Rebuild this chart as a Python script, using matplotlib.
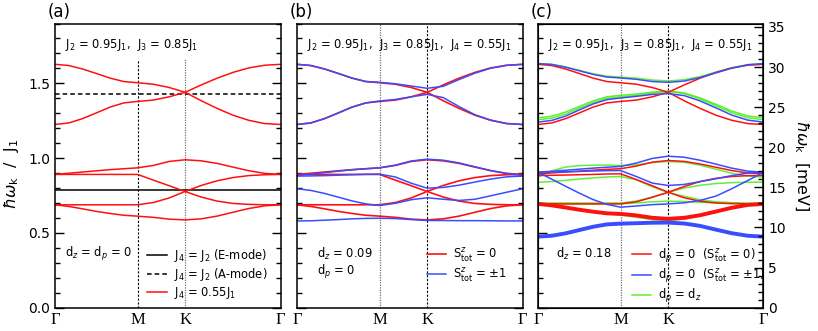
#!/usr/bin/env python3
"""
Spin-wave dispersion along Gamma-M-K-Gamma for three parameter sets.
"""

import matplotlib
matplotlib.use('Agg')
import matplotlib.pyplot as plt
from matplotlib.ticker import MultipleLocator

# k path (fraction of the Gamma-M-K-Gamma length)
k_path = [0.0, 0.061, 0.122, 0.183, 0.244, 0.305, 0.366, 0.436, 0.507, 0.577,
          0.648, 0.718, 0.789, 0.859, 0.930, 1.0]
k_ticks = [0.0, 0.366, 0.577, 1.0]
k_labels = ['Γ', 'M', 'K', 'Γ']

# (a) J4 = J2 flat modes and J4 = 0.55 J1 bands  (units of J1)
e_mode = 0.788
a_mode = 1.429
a_red1 = [1.627, 1.619, 1.596, 1.566, 1.535, 1.512, 1.504, 1.494, 1.472, 1.440, 1.489, 1.534, 1.573, 1.603, 1.621, 1.627]
a_red2 = [1.225, 1.235, 1.264, 1.302, 1.341, 1.369, 1.379, 1.388, 1.410, 1.440, 1.384, 1.333, 1.287, 1.253, 1.231, 1.225]
a_red3 = [0.891, 0.899, 0.907, 0.915, 0.923, 0.929, 0.935, 0.951, 0.978, 0.989, 0.982, 0.965, 0.940, 0.916, 0.898, 0.891]
a_red4 = [0.891, 0.891, 0.891, 0.891, 0.891, 0.891, 0.891, 0.853, 0.815, 0.777, 0.817, 0.848, 0.870, 0.883, 0.889, 0.891]
a_red5 = [0.688, 0.688, 0.688, 0.688, 0.688, 0.688, 0.688, 0.703, 0.734, 0.777, 0.740, 0.713, 0.697, 0.691, 0.688, 0.688]
a_red6 = [0.688, 0.677, 0.661, 0.644, 0.630, 0.618, 0.612, 0.604, 0.592, 0.587, 0.594, 0.612, 0.638, 0.663, 0.681, 0.688]

# (b) dz = 0.09, dp = 0 : S=0 bands equal the (a) red ones, S=+-1 below
b_blue1 = [1.627, 1.619, 1.596, 1.566, 1.535, 1.512, 1.507, 1.497, 1.482, 1.467, 1.480, 1.525, 1.568, 1.601, 1.620, 1.627]
b_blue2 = [1.225, 1.235, 1.264, 1.302, 1.341, 1.369, 1.382, 1.392, 1.410, 1.426, 1.405, 1.345, 1.290, 1.254, 1.231, 1.225]
b_blue3 = [0.884, 0.893, 0.903, 0.913, 0.922, 0.929, 0.935, 0.953, 0.981, 0.993, 0.986, 0.968, 0.942, 0.917, 0.897, 0.884]
b_blue4 = [0.880, 0.881, 0.883, 0.886, 0.889, 0.892, 0.893, 0.874, 0.832, 0.799, 0.804, 0.819, 0.840, 0.860, 0.875, 0.880]
b_blue5 = [0.795, 0.784, 0.764, 0.739, 0.714, 0.694, 0.683, 0.698, 0.722, 0.735, 0.725, 0.717, 0.725, 0.748, 0.772, 0.795]
b_blue6 = [0.580, 0.581, 0.585, 0.589, 0.594, 0.597, 0.598, 0.596, 0.589, 0.583, 0.583, 0.582, 0.582, 0.581, 0.580, 0.580]

# (c) dz = 0.18
c_red3 = [0.895, 0.901, 0.907, 0.913, 0.919, 0.925, 0.929, 0.947, 0.973, 0.984, 0.978, 0.961, 0.939, 0.917, 0.901, 0.895]
c_red4 = [0.884, 0.885, 0.887, 0.889, 0.891, 0.894, 0.895, 0.857, 0.815, 0.772, 0.810, 0.843, 0.865, 0.877, 0.883, 0.884]
c_red5 = [0.694, 0.694, 0.694, 0.694, 0.694, 0.694, 0.694, 0.708, 0.738, 0.772, 0.735, 0.712, 0.700, 0.696, 0.694, 0.694]
c_red6 = [0.694, 0.684, 0.670, 0.655, 0.642, 0.631, 0.627, 0.617, 0.601, 0.594, 0.601, 0.618, 0.643, 0.668, 0.687, 0.694]
c_blue1 = [1.632, 1.626, 1.608, 1.584, 1.560, 1.542, 1.536, 1.527, 1.512, 1.507, 1.515, 1.538, 1.570, 1.601, 1.624, 1.632]
c_blue2 = [1.241, 1.252, 1.281, 1.322, 1.362, 1.391, 1.402, 1.413, 1.426, 1.431, 1.418, 1.383, 1.336, 1.288, 1.254, 1.241]
c_blue3 = [0.906, 0.912, 0.919, 0.926, 0.933, 0.939, 0.944, 0.967, 0.998, 1.013, 1.006, 0.986, 0.960, 0.933, 0.913, 0.906]
c_blue4 = [0.906, 0.907, 0.909, 0.911, 0.914, 0.916, 0.917, 0.877, 0.833, 0.817, 0.824, 0.843, 0.862, 0.883, 0.900, 0.906]
c_blue5 = [0.906, 0.859, 0.812, 0.766, 0.723, 0.691, 0.672, 0.680, 0.689, 0.694, 0.701, 0.717, 0.746, 0.795, 0.850, 0.906]
c_blue6 = [0.475, 0.481, 0.497, 0.519, 0.541, 0.557, 0.562, 0.565, 0.568, 0.569, 0.563, 0.547, 0.522, 0.498, 0.481, 0.475]
c_green1 = [1.632, 1.627, 1.610, 1.587, 1.564, 1.548, 1.542, 1.535, 1.522, 1.516, 1.524, 1.545, 1.575, 1.604, 1.625, 1.632]
c_green2 = [1.270, 1.280, 1.308, 1.345, 1.383, 1.410, 1.420, 1.428, 1.441, 1.449, 1.436, 1.403, 1.360, 1.315, 1.282, 1.270]
c_green3 = [1.257, 1.267, 1.295, 1.334, 1.372, 1.400, 1.410, 1.419, 1.435, 1.445, 1.432, 1.396, 1.350, 1.304, 1.270, 1.257]
c_green4 = [0.873, 0.915, 0.940, 0.950, 0.953, 0.953, 0.951, 0.955, 0.970, 0.978, 0.972, 0.953, 0.926, 0.899, 0.880, 0.873]
c_green5 = [0.839, 0.843, 0.851, 0.860, 0.868, 0.874, 0.877, 0.855, 0.808, 0.770, 0.800, 0.818, 0.830, 0.836, 0.839, 0.839]
c_green6 = [0.700, 0.700, 0.700, 0.700, 0.700, 0.700, 0.700, 0.713, 0.740, 0.770, 0.745, 0.722, 0.708, 0.702, 0.700, 0.700]
c_green7 = [0.694, 0.694, 0.694, 0.694, 0.694, 0.694, 0.694, 0.700, 0.708, 0.712, 0.710, 0.705, 0.700, 0.697, 0.695, 0.694]
c_green8 = [0.694, 0.683, 0.668, 0.652, 0.638, 0.626, 0.620, 0.605, 0.588, 0.583, 0.592, 0.613, 0.640, 0.666, 0.686, 0.694]

J1_meV = 18.65
y_max = 1.9

RED = '#ff1010'
BLUE = '#3a4cff'
GREEN = '#44ee11'
TXT = 8.3

W, H = 818, 331
fig = plt.figure(figsize=(W / 100, H / 100), dpi=100)


def make_axes(left_px):
    ax = fig.add_axes([left_px / W, (H - 307.7) / H, 225.5 / W, 284.2 / H])
    ax.set_xlim(0, 1)
    ax.set_ylim(0, y_max)
    ax.yaxis.set_major_locator(MultipleLocator(0.5))
    ax.yaxis.set_minor_locator(MultipleLocator(0.1))
    ax.tick_params(axis='y', which='both', direction='in', left=True, right=True,
                   labelsize=10, width=1.0)
    ax.tick_params(axis='y', which='major', length=6.5)
    ax.tick_params(axis='y', which='minor', length=3.4)
    ax.set_xticks(k_ticks)
    ax.set_xticklabels(k_labels, family='Liberation Serif', fontsize=12)
    ax.tick_params(axis='x', length=0, pad=3)
    for s in ax.spines.values():
        s.set_linewidth(1.1)
    return ax


def add_legend(ax, x0, handles=None):
    kw = dict(loc='upper left', bbox_to_anchor=(x0, 0.215), frameon=False, fontsize=TXT,
              borderpad=0, borderaxespad=0, handlelength=1.7, handletextpad=0.6,
              labelspacing=0.2)
    if handles is None:
        ax.legend(**kw)
    else:
        ax.legend(handles, [h.get_label() for h in handles], **kw)


# ---------------- (a)
ax1 = make_axes(55)
ax1.axvline(k_ticks[1], ymax=0.874, color='k', lw=0.8, ls=(0, (2, 1.5)))
ax1.axvline(k_ticks[2], ymax=0.874, color='0.45', lw=0.9, ls=(0, (1, 1)))
ax1.axhline(e_mode, color='k', lw=1.1, label='J$_4$ = J$_2$ (E-mode)')
ax1.axhline(a_mode, color='k', lw=1.1, ls=(0, (3, 2)), label='J$_4$ = J$_2$ (A-mode)')
for i, band in enumerate([a_red1, a_red2, a_red3, a_red4, a_red5, a_red6]):
    ax1.plot(k_path, band, color=RED, lw=1.1,
             label='J$_4$ = 0.55J$_1$' if i == 0 else None)
ax1.set_ylabel(r'$\hbar\omega_{\rm k}$  /  J$_1$', fontsize=11.5)
ax1.yaxis.set_label_coords(-0.15, 0.47)
ax1.text(0.044, 0.924, 'J$_2$ = 0.95J$_1$,  J$_3$ = 0.85J$_1$', transform=ax1.transAxes,
         fontsize=TXT, va='center')
ax1.text(0.044, 0.189, 'd$_z$ = d$_p$ = 0', transform=ax1.transAxes, fontsize=TXT, va='center')
add_legend(ax1, 0.41)

# ---------------- (b)
ax2 = make_axes(297)
ax2.tick_params(axis='y', labelleft=False)
ax2.axvline(k_ticks[1], color='0.45', lw=0.9, ls=(0, (1, 1)))
ax2.axvline(k_ticks[2], color='k', lw=0.8, ls=(0, (2, 1.5)))
for i, band in enumerate([a_red1, a_red2, a_red3, a_red4, a_red5, a_red6]):
    ax2.plot(k_path, band, color=RED, lw=1.2,
             label=r'S$^{z}_{\rm tot}$ = 0' if i == 0 else None)
for i, band in enumerate([b_blue1, b_blue2, b_blue3, b_blue4, b_blue5, b_blue6]):
    ax2.plot(k_path, band, color=BLUE, lw=1.1,
             label=r'S$^{z}_{\rm tot}$ = $\pm$1' if i == 0 else None)
ax2.text(0.044, 0.924, 'J$_2$ = 0.95J$_1$,  J$_3$ = 0.85J$_1$,  J$_4$ = 0.55J$_1$',
         transform=ax2.transAxes, fontsize=TXT, va='center')
ax2.text(0.087, 0.189, 'd$_z$ = 0.09', transform=ax2.transAxes, fontsize=TXT, va='center')
ax2.text(0.087, 0.126, 'd$_p$ = 0', transform=ax2.transAxes, fontsize=TXT, va='center')
add_legend(ax2, 0.575)

# ---------------- (c)
ax3 = make_axes(538)
ax3.tick_params(axis='y', labelleft=False, right=False, which='both')
ax3.axvline(k_ticks[1], color='0.45', lw=0.9, ls=(0, (1, 1)))
ax3.axvline(k_ticks[2], color='k', lw=0.8, ls=(0, (2, 1.5)))
greens = [c_green1, c_green2, c_green3, c_green4, c_green5, c_green6, c_green7, c_green8]
h_gc = None
for band in greens:
    h_gc, = ax3.plot(k_path, band, color=GREEN, lw=1.1, alpha=0.85, label='d$_p$ = d$_z$')
h_rc = None
for band in [a_red1, a_red2, c_red3, c_red4, c_red5]:
    h_rc, = ax3.plot(k_path, band, color=RED, lw=1.1,
                     label=r'd$_p$ = 0  (S$^{z}_{\rm tot}$ = 0)')
ax3.plot(k_path, c_red6, color=RED, lw=2.8)
h_bc = None
for band in [c_blue1, c_blue2, c_blue3, c_blue4, c_blue5]:
    h_bc, = ax3.plot(k_path, band, color=BLUE, lw=1.1,
                     label=r'd$_p$ = 0  (S$^{z}_{\rm tot}$ = $\pm$1)')
ax3.plot(k_path, c_blue6, color=BLUE, lw=2.8)
ax3.text(0.044, 0.924, 'J$_2$ = 0.95J$_1$,  J$_3$ = 0.85J$_1$,  J$_4$ = 0.55J$_1$',
         transform=ax3.transAxes, fontsize=TXT, va='center')
ax3.text(0.08, 0.189, 'd$_z$ = 0.18', transform=ax3.transAxes, fontsize=TXT, va='center')
add_legend(ax3, 0.416, [h_rc, h_bc, h_gc])

# meV scale on the right
ax3r = ax3.twinx()
ax3r.set_ylim(0, y_max * J1_meV)
ax3r.yaxis.set_major_locator(MultipleLocator(5))
ax3r.yaxis.set_minor_locator(MultipleLocator(1))
ax3r.tick_params(axis='y', which='both', direction='in', labelsize=10, width=1.0)
ax3r.tick_params(axis='y', which='major', length=6.5)
ax3r.tick_params(axis='y', which='minor', length=3.4)
ax3r.set_ylabel(r'$\hbar\omega_{\rm k}$  [meV]', fontsize=11.5, rotation=270, va='center')
ax3r.yaxis.set_label_coords(1.165, 0.5)

for ax, lab in [(ax1, '(a)'), (ax2, '(b)'), (ax3, '(c)')]:
    pos = ax.get_position()
    fig.text(pos.x0 - 7 / W, 1 - 12 / H, lab, fontsize=12, va='center', ha='left')

fig.savefig('out.png', dpi=100)
